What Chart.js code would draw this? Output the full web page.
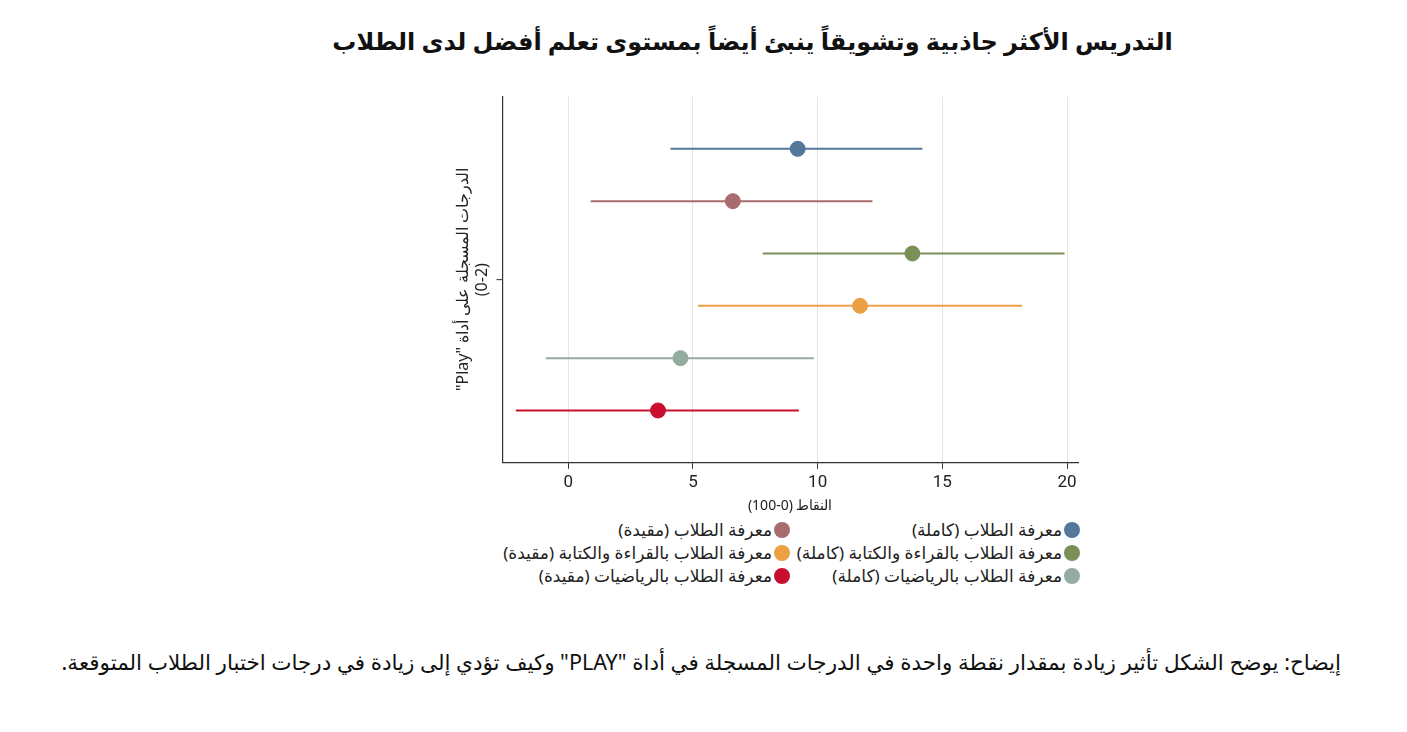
<!DOCTYPE html>
<html lang="ar" dir="rtl">
<head>
<meta charset="utf-8">
<script src="https://cdn.jsdelivr.net/npm/chart.js@4"></script>
<style>
  body { margin: 0; width: 1407px; height: 732px; background: #fff; font-family: "Noto Sans", "DejaVu Sans", sans-serif; position: relative; overflow: hidden; }
  #title { position: absolute; top: 24px; left: 0; width: 1505px; text-align: center; font-size: 24px; font-weight: bold; color: #111; }
  #wrap { position: absolute; left: 450px; top: 88px; width: 638px; height: 430px; }
  #legend { position: absolute; top: 518px; left: 500px; width: 580px; display: grid; grid-template-columns: 1fr 1fr; font-size: 17px; color: #222; }
  #legend div { display: flex; align-items: center; height: 23px; }
  #legend span.dot { width: 16px; height: 16px; border-radius: 50%; display: inline-block; margin-left: 2px; }
  #caption { position: absolute; top: 647px; right: 66px; font-size: 21.5px; color: #111; }
</style>
</head>
<body>
<div id="title">التدريس الأكثر جاذبية وتشويقاً ينبئ أيضاً بمستوى تعلم أفضل لدى الطلاب</div>
<div id="wrap"><canvas id="chart"></canvas></div>
<div id="legend"></div>
<div id="caption">إيضاح: يوضح الشكل تأثير زيادة بمقدار نقطة واحدة في الدرجات المسجلة في أداة "PLAY" وكيف تؤدي إلى زيادة في درجات اختبار الطلاب المتوقعة.</div>
<script>
// Series (top to bottom)
const labels = [
  'معرفة الطلاب (كاملة)',
  'معرفة الطلاب (مقيدة)',
  'معرفة الطلاب بالقراءة والكتابة (كاملة)',
  'معرفة الطلاب بالقراءة والكتابة (مقيدة)',
  'معرفة الطلاب بالرياضيات (كاملة)',
  'معرفة الطلاب بالرياضيات (مقيدة)'
];
const estimates = [9.2, 6.6, 13.8, 11.7, 4.5, 3.6];
const lower = [4.1, 0.9, 7.8, 5.2, -0.9, -2.1];
const upper = [14.2, 12.2, 19.9, 18.2, 9.85, 9.25];
const rows = [6, 5, 4, 3, 2, 1];
const colors = ['#55779a', '#a86b6e', '#7a9058', '#eba043', '#94aba0', '#c8102e'];
const xTicks = [0, 5, 10, 15, 20];

const datasets = [];
labels.forEach((name, i) => {
  datasets.push({
    type: 'line',
    data: [{ x: lower[i], y: rows[i] }, { x: upper[i], y: rows[i] }],
    borderColor: colors[i], borderWidth: 2, pointRadius: 0
  });
  datasets.push({
    type: 'scatter',
    data: [{ x: estimates[i], y: rows[i] }],
    backgroundColor: colors[i], borderColor: colors[i], pointRadius: 7.5
  });
});

new Chart(document.getElementById('chart'), {
  type: 'scatter',
  data: { datasets },
  options: {
    responsive: true, maintainAspectRatio: false, animation: false,
    layout: { padding: { right: 10 } },
    plugins: { legend: { display: false }, tooltip: { enabled: false } },
    scales: {
      x: {
        type: 'linear', min: -2.64, max: 20.44,
        afterBuildTicks: axis => { axis.ticks = xTicks.map(v => ({ value: v })); },
        grid: { color: '#e6e6e6', drawTicks: true, tickLength: 6, tickColor: '#333' },
        border: { color: '#333', width: 1.2 },
        ticks: { color: '#222', font: { family: 'Roboto', size: 17 }, padding: 4 },
        title: { display: true, text: 'النقاط (0-100)', color: '#222', font: { family: 'Noto Sans', size: 14 }, padding: { top: 0 } }
      },
      y: {
        type: 'linear', min: 0, max: 7,
        afterBuildTicks: axis => { axis.ticks = [{ value: 3.5 }]; },
        grid: { display: false, drawTicks: true, tickLength: 6 },
        border: { color: '#333', width: 1.2 },
        ticks: { callback: () => '', padding: 0 },
        title: { display: true, text: ['الدرجات المسجلة على أداة "Play"', '(0-2)'], color: '#222', font: { family: 'Noto Sans', size: 16 }, padding: { bottom: 4 } }
      }
    }
  },
  plugins: [{
    id: 'ytick',
    afterDraw(chart) {
      const { ctx, scales: { y } } = chart;
      const py = y.getPixelForValue(3.5);
      ctx.save(); ctx.strokeStyle = '#333'; ctx.lineWidth = 1;
      ctx.beginPath(); ctx.moveTo(y.right - 6, py); ctx.lineTo(y.right, py); ctx.stroke(); ctx.restore();
    }
  }]
});

// legend: two columns, right column holds (كاملة)
const legend = document.getElementById('legend');
[0, 1, 2, 3, 4, 5].forEach(i => {
  const d = document.createElement('div');
  d.innerHTML = `<span class="dot" style="background:${colors[i]}"></span><span>${labels[i]}</span>`;
  legend.appendChild(d);
});
</script>
</body>
</html>
